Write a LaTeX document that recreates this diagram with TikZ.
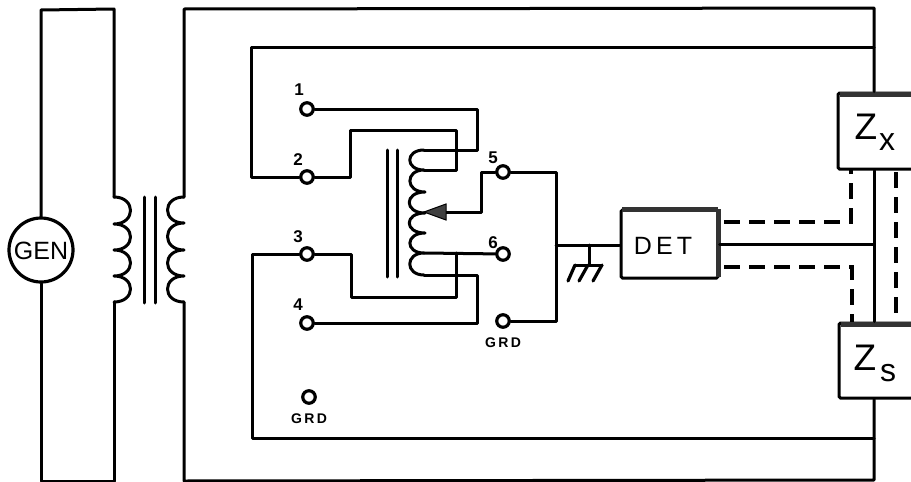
\documentclass[tikz,border=0pt]{standalone}
\usepackage{fontspec}
\setmainfont{Liberation Sans}
\usetikzlibrary{arrows.meta}
\tikzset{
  wire/.style={line width=3pt,line join=round,line cap=round},
  term/.style={circle,draw,line width=3.2pt,fill=white,minimum size=12.5pt,inner sep=0pt},
  box/.style={draw,line width=3pt,fill=white,inner sep=0pt,rounded corners=1.5pt},
  shade/.style={line width=5pt,color=black!80},
  dashwire/.style={line width=3.4pt,dash pattern=on 16pt off 9pt},
  num/.style={font=\bfseries\fontsize{17}{17}\selectfont,inner sep=0pt},
  grd/.style={font=\bfseries\fontsize{14}{14}\selectfont,inner sep=0pt},
  big/.style={font=\fontsize{37}{37}\selectfont,inner sep=0pt},
  sub/.style={font=\fontsize{32}{32}\selectfont,inner sep=0pt},
  lab/.style={font=\fontsize{25}{25}\selectfont,inner sep=0pt}
}
\begin{document}
\begin{tikzpicture}[x=1pt,y=-1pt]
\useasboundingbox (0,0) rectangle (911,482);
\clip (0,0) rectangle (911,482);
\fill[white] (0,0) rectangle (911,482);
% generator loop
\node[term,minimum size=64pt,line width=3.2pt] (gen) at (41,250) {};
\node[lab] (gent) at (41,251) {GEN};
\coordinate (pt) at (114,197);
\coordinate (pb) at (114,302);
\draw[wire] (gen.north) -- (41,10) -- (114,9) -- (pt);
\draw[wire] (gen.south) -- (41,481) -- (114,481) -- (pb);
\draw[wire] (pt) .. controls (136,197) and (136,224) .. (114,224)
  .. controls (136,224) and (136,250) .. (114,250)
  .. controls (136,250) and (136,276) .. (114,276)
  .. controls (136,276) and (136,302) .. (pb);
% input core
\draw[wire] (144,197) -- (144,303) (155,197) -- (155,303);
% secondary
\coordinate (st) at (184,197);
\coordinate (sb) at (184,302);
\draw[wire] (st) .. controls (162,197) and (162,223) .. (184,223)
  .. controls (162,223) and (162,250) .. (184,250)
  .. controls (162,250) and (162,276) .. (184,276)
  .. controls (162,276) and (162,302) .. (sb);
% boxes
\node[box,minimum width=97pt,minimum height=68pt] (det) at (669.5,244) {};
\node[box,minimum width=90pt,minimum height=76pt] (zx) at (883,131) {};
\node[box,minimum width=90pt,minimum height=75pt] (zs) at (884,360.5) {};
\draw[shade] (622,209) -- (718,209);
\draw[shade] (718,209) -- (718,277);
\draw[shade] (840,94) -- (911,94);
\draw[shade] (841,324) -- (911,324);
\node[lab] at (663,246) {D\,E\,T};
\node[big] at (866,127) {Z};
\node[sub] at (887,142) {x};
\node[big] at (865,358) {Z};
\node[sub] at (888,373) {s};
% outer frame
\coordinate (wx) at (874,244);
\draw[wire] (st) -- (184,9) -- (874,8) -- (zx.north -| wx);
\draw[wire] (sb) -- (184,481) -- (874,480) -- (zs.south -| wx);
% terminals
\node[term] (t1) at (307,109) {};
\node[term] (t2) at (307,177) {};
\node[term] (t3) at (307,254) {};
\node[term] (t4) at (307,323) {};
\node[term] (t5) at (503,172) {};
\node[term] (t6) at (503,254) {};
\node[term] (tg) at (503,321) {};
\node[term] (tf) at (309,397) {};
\node[num] at (299,90) {1};
\node[num] at (298,160) {2};
\node[num] at (298,237) {3};
\node[num] at (298,305) {4};
\node[num] at (493,158) {5};
\node[num] at (493,243) {6};
\node[grd] at (503,343) {G\,R\,D};
\node[grd] at (309,419) {G\,R\,D};
% inner frame
\draw[wire] (t2) -- (251,177) -- (251,47) -- (874,47);
\draw[wire] (t3) -- (252,254) -- (252,438) -- (874,438);
% bridge transformer
\coordinate (ct) at (424,150);
\coordinate (cb) at (424,275);
\draw[wire] (387,150) -- (387,277) (397,150) -- (397,277);
\draw[wire] (ct) .. controls (405,150) and (405,170) .. (424,170)
  .. controls (405,170) and (405,192) .. (425,192)
  .. controls (404,192) and (404,213) .. (425,213)
  .. controls (404,213) and (404,233) .. (425,233)
  .. controls (405,233) and (405,253) .. (424,253)
  .. controls (405,253) and (405,275) .. (cb);
\draw[wire] (t1) -- (477,109) -- (477,150) -- (ct);
\draw[wire] (t2) -- (350,177) -- (350,130) -- (456,130) -- (456,170) -- (424,170);
\draw[wire] (t3) -- (351,254) -- (351,297) -- (456,297) -- (456,253);
\draw[wire] (t4) -- (477,323) -- (477,275) -- (cb);
\draw[wire] (t6) -- (424,253);
% slider
\coordinate (sl) at (481,212);
\draw[wire] (t5) -- (481,172) -- (sl) -- (445,212);
\fill[black!75,draw=black,line width=1pt] (424,212) -- (446,204) -- (446,220) -- cycle;
% detector input
\coordinate (dj) at (556,245);
\coordinate (gj) at (589,245);
\draw[wire] (t5) -- (556,172) -- (556,321) -- (tg);
\draw[wire] (dj) -- (det.west |- dj);
% ground
\draw[wire] (gj) -- (589,265);
\draw[wire] (575,265) -- (602,265);
\draw[wire,line width=3.2pt] (575,265) -- (568,281) (588,265) -- (579,281) (602,265) -- (593,281);
% detector outputs
\draw[wire] (det.east |- wx) -- (wx);
\draw[wire] (zx.south -| wx) -- (zs.north -| wx);
\draw[dashwire] (724,222) -- (851,222) -- (851,170);
\draw[dashwire] (724,267) -- (852,267) -- (852,322);
\draw[dashwire] (896,172) -- (896,316);
\end{tikzpicture}
\end{document}
